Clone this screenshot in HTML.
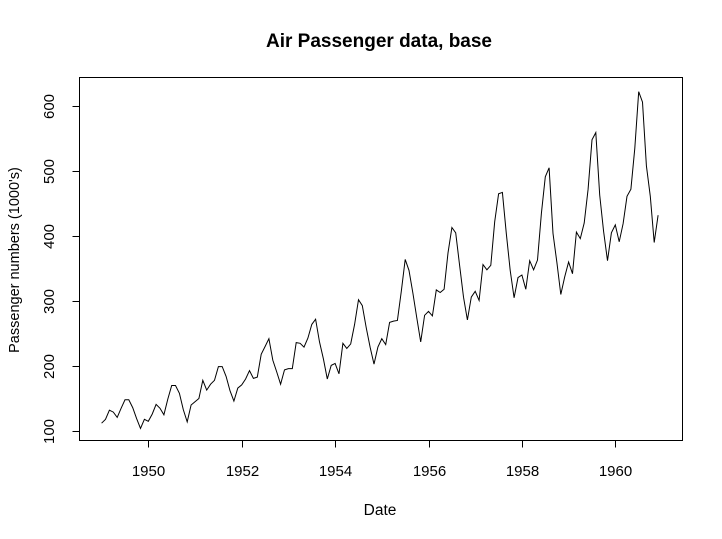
<!DOCTYPE html>
<html><head><meta charset="utf-8"><style>
html,body{margin:0;padding:0;background:#fff;}
svg{display:block;font-family:"Liberation Sans",Arial,sans-serif;}
</style></head><body>
<svg id="s" width="722" height="539" viewBox="0 0 722 539" xmlns="http://www.w3.org/2000/svg">
<rect width="722" height="539" fill="#fff"/>
<text x="379" y="47" text-anchor="middle" font-size="19" font-weight="bold">Air Passenger data, base</text>
<rect x="79.5" y="77.5" width="603" height="363" fill="none" stroke="#000" stroke-width="1"/>
<g id="ax" stroke="#000" stroke-width="1"></g>
<g id="lab" font-size="15" fill="#000"></g>
<text x="380" y="515" text-anchor="middle" font-size="15.5">Date</text>
<text transform="translate(19,260) rotate(-90)" text-anchor="middle" font-size="14.5">Passenger numbers (1000's)</text>
<polyline id="pl" fill="none" stroke="#000" stroke-width="1"/>
</svg>
<script>
var d=[112,118,132,129,121,135,148,148,136,119,104,118,115,126,141,135,125,149,170,170,158,133,114,140,145,150,178,163,172,178,199,199,184,162,146,166,171,180,193,181,183,218,230,242,209,191,172,194,196,196,236,235,229,243,264,272,237,211,180,201,204,188,235,227,234,264,302,293,259,229,203,229,242,233,267,269,270,315,364,347,312,274,237,278,284,277,317,313,318,374,413,405,355,306,271,306,315,301,356,348,355,422,465,467,404,347,305,336,340,318,362,348,363,435,491,505,404,359,310,337,360,342,406,396,420,472,548,559,463,407,362,405,417,391,419,461,472,535,622,606,508,461,390,432];
function X(t){return 148.3+(t-1950)*46.7;}
function Y(v){return 431-(v-100)*0.65;}
var p=[];for(var i=0;i<d.length;i++){p.push(X(1949+i/12).toFixed(1)+","+Y(d[i]).toFixed(1));}
document.getElementById("pl").setAttribute("points",p.join(" "));
var ns="http://www.w3.org/2000/svg",ax=document.getElementById("ax"),lab=document.getElementById("lab");
function L(x1,y1,x2,y2){var l=document.createElementNS(ns,"line");l.setAttribute("x1",x1);l.setAttribute("y1",y1);l.setAttribute("x2",x2);l.setAttribute("y2",y2);ax.appendChild(l);}
function T(x,y,s,r){var t=document.createElementNS(ns,"text");t.setAttribute("text-anchor","middle");if(r){t.setAttribute("transform","translate("+x+","+y+") rotate(-90)");}else{t.setAttribute("x",x);t.setAttribute("y",y);}t.textContent=s;lab.appendChild(t);}
L(X(1950),440.5,X(1960),440.5);
for(var yr=1950;yr<=1960;yr+=2){var x=Math.round(X(yr))+0.5;L(x,440.5,x,447.5);T(x,476,""+yr);}
L(79.5,Y(100),79.5,Y(600));
for(var v=100;v<=600;v+=100){var y=Math.round(Y(v))+0.5;L(72.5,y,79.5,y);T(54,y,""+v,true);}
</script>
</body></html>
